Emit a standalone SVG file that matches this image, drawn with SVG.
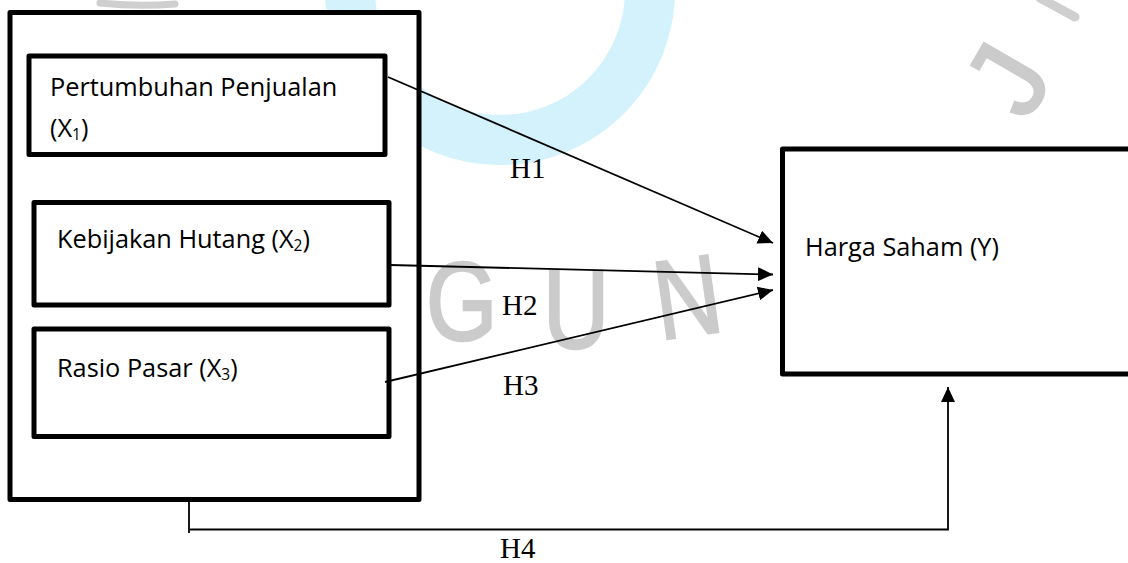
<svg xmlns="http://www.w3.org/2000/svg" width="1128" height="563" viewBox="0 0 1128 563">
  <style>
    .box{fill:#fff;stroke:#000;stroke-width:5;stroke-linejoin:round}
    .lbl{font-family:"Open Sans","Noto Sans",sans-serif;font-size:25.3px;fill:#000}
    .sub{font-size:15.5px}
    .h{font-family:"Liberation Serif","Times New Roman",serif;font-size:29px;fill:#000}
    .conn{stroke:#000;stroke-width:1.8;fill:none}
    .wm{fill:#cbcbcb;stroke:#cbcbcb;stroke-width:2.5;font-family:"Liberation Sans",Arial,sans-serif;font-size:112px}
    .wm-stroke{fill:none;stroke:#cfcfcf;stroke-linecap:round}
  </style>
  <defs>
    <marker id="arrow" markerUnits="userSpaceOnUse" markerWidth="16" markerHeight="14" refX="15" refY="7" orient="auto">
      <path d="M0,0 L15,7 L0,14 z" fill="#000"/>
    </marker>
  </defs>

  <rect width="1128" height="563" fill="#fff"/>

  <!-- faint background watermark -->
  <g id="watermark">
    <circle cx="500" cy="-10" r="150" fill="none" stroke="#d3f2fc" stroke-width="50"/>
    <path class="wm-stroke" d="M100,3 Q138,7 175,4" stroke-width="7"/>
    <path class="wm-stroke" d="M1040,-2 L1075,17" stroke-width="9"/>
    <text class="wm" transform="translate(426,340) scale(0.82,1)">G</text>
    <text class="wm" transform="translate(543,348) scale(0.82,1)">U</text>
    <text class="wm" transform="translate(660,340) rotate(-8) scale(0.82,1)">N</text>
    <text class="wm" transform="translate(1027,123) rotate(-60)">J</text>
  </g>

  <!-- independent variables -->
  <g id="group-x">
    <rect class="box" x="10" y="12.5" width="409" height="487"/>
  </g>
  <g id="node-x1">
    <rect class="box" x="29" y="56" width="356" height="98.5"/>
    <text class="lbl" x="50" y="96">Pertumbuhan Penjualan</text>
    <text class="lbl" x="50" y="137">(X<tspan class="sub" dy="3">1</tspan><tspan dy="-3">)</tspan></text>
  </g>
  <g id="node-x2">
    <rect class="box" x="34" y="202.5" width="355" height="102.5"/>
    <text class="lbl" x="57" y="248">Kebijakan Hutang (X<tspan class="sub" dy="3">2</tspan><tspan dy="-3">)</tspan></text>
  </g>
  <g id="node-x3">
    <rect class="box" x="34" y="329" width="355" height="107.5"/>
    <text class="lbl" x="57" y="377">Rasio Pasar (X<tspan class="sub" dy="3">3</tspan><tspan dy="-3">)</tspan></text>
  </g>

  <!-- dependent variable -->
  <g id="node-y">
    <rect class="box" x="782.5" y="149" width="360" height="225"/>
    <text class="lbl" x="805" y="256">Harga Saham (Y)</text>
  </g>

  <!-- hypothesis paths -->
  <g id="connectors">
    <line class="conn" x1="388" y1="77" x2="773" y2="243" marker-end="url(#arrow)"/>
    <line class="conn" x1="390" y1="265" x2="773" y2="274.5" marker-end="url(#arrow)"/>
    <line class="conn" x1="385" y1="382" x2="773" y2="290" marker-end="url(#arrow)"/>
    <line class="conn" x1="189" y1="502" x2="189" y2="533" stroke-width="1.5"/>
    <polyline class="conn" points="190,529.5 948,529.5 948,387" marker-end="url(#arrow)"/>
  </g>

  <g id="labels">
    <text class="h" x="510" y="178">H1</text>
    <text class="h" x="502" y="315">H2</text>
    <text class="h" x="503" y="395">H3</text>
    <text class="h" x="500" y="558">H4</text>
  </g>
</svg>
